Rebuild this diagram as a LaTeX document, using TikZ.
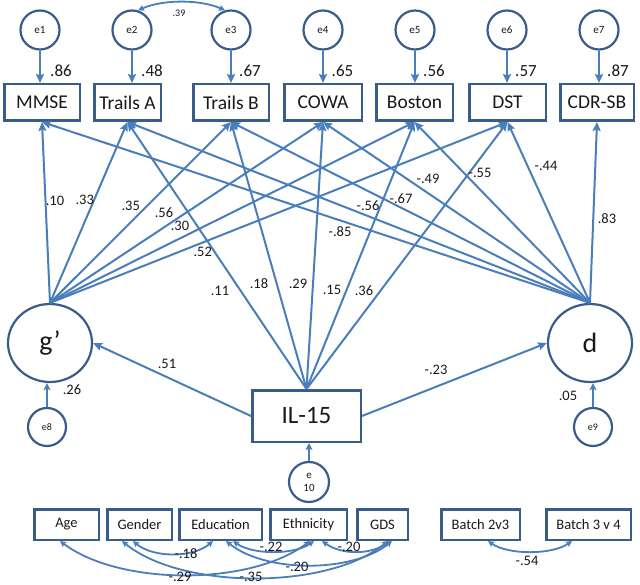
\documentclass[tikz,border=0pt]{standalone}
\usepackage{fontspec}
\setmainfont{Carlito}
\usetikzlibrary{arrows.meta,shapes.geometric}
\definecolor{lineblue}{RGB}{74,126,187}
\definecolor{edgeblue}{RGB}{56,93,138}
\definecolor{txt}{RGB}{25,25,25}
\begin{document}
\begin{tikzpicture}[x=1pt,y=-1pt,
  obsbox/.style={draw=edgeblue, line width=2.5pt, fill=white, rectangle, inner sep=0pt, text=txt},
  topvar/.style={obsbox, minimum height=36.5pt, font=\fontsize{19.5}{22}\selectfont},
  botvar/.style={obsbox, minimum height=30.5pt, font=\fontsize{14.5}{17}\selectfont},
  errc/.style={draw=edgeblue, line width=2.2pt, fill=white, circle, minimum size=39pt, inner sep=0pt, font=\fontsize{11}{13}\selectfont, text=txt},
  latentc/.style={draw=edgeblue, line width=2.2pt, fill=white, ellipse, minimum width=84pt, minimum height=78pt, inner sep=0pt, font=\fontsize{28}{30}\selectfont, text=txt},
  arr/.style={draw=lineblue, line width=2pt, -{Stealth[length=9pt,width=8pt,inset=1.5pt]}},
  arrs/.style={draw=lineblue, line width=2pt, -{Stealth[length=7pt,width=7pt,inset=1.5pt]}},
  cov/.style={draw=lineblue, line width=1.8pt, {Stealth[length=6pt,width=6pt,inset=1pt]}-{Stealth[length=6pt,width=6pt,inset=1pt]}},
  lab/.style={font=\fontsize{14.5}{17}\selectfont, text=txt, inner sep=0pt},
  biglab/.style={font=\fontsize{17}{20}\selectfont, text=txt, inner sep=0pt},
  smalllab/.style={font=\fontsize{10}{12}\selectfont, text=txt, inner sep=0pt},
]
\useasboundingbox (0,0) rectangle (640,585);

% top observed variables
\node[topvar, minimum width=75.5pt] (mmse) at (42,102.5) {MMSE};
\node[topvar, minimum width=66.5pt] (tra) at (127.5,102.5) {Trails A};
\node[topvar, minimum width=75.5pt] (trb) at (231,102.5) {Trails B};
\node[topvar, minimum width=77.5pt] (cowa) at (323,102.5) {COWA};
\node[topvar, minimum width=76.5pt] (boston) at (414.5,102.5) {Boston};
\node[topvar, minimum width=76.5pt] (dst) at (507.5,102.5) {DST};
\node[topvar, minimum width=73.5pt] (cdr) at (597,102.5) {CDR-SB};

% top error terms
\node[errc] (e1) at (40,30) {e1};
\node[errc] (e2) at (132,30) {e2};
\node[errc] (e3) at (231,30) {e3};
\node[errc] (e4) at (323,30) {e4};
\node[errc] (e5) at (415,30) {e5};
\node[errc] (e6) at (507,30) {e6};
\node[errc] (e7) at (599,30) {e7};

% latent factors
\node[latentc] (gp) at (50,343) {g’};
\node[latentc] (d) at (590,343) {d};
\node[errc, minimum size=38pt, font=\fontsize{10}{12}\selectfont] (e8) at (47,427) {e8};
\node[errc, minimum size=38pt, font=\fontsize{10}{12}\selectfont] (e9) at (593,427) {e9};

% IL-15
\node[obsbox, minimum width=108.5pt, minimum height=51.5pt, font=\fontsize{25}{28}\selectfont] (il) at (306.5,416) {IL-15};
\node[errc, minimum size=40pt, align=center, font=\fontsize{11}{13}\selectfont] (e10) at (309,482) {e\\10};

% covariates
\node[botvar, minimum width=64.5pt] (age) at (66.5,524.5) {Age};
\node[botvar, minimum width=64.5pt] (gender) at (139.5,524.5) {Gender};
\node[botvar, minimum width=82.5pt] (edu) at (220.5,524.5) {Education};
\node[botvar, minimum width=76.5pt] (eth) at (308.5,524.5) {Ethnicity};
\node[botvar, minimum width=50.5pt] (gds) at (382.5,524.5) {GDS};
\node[botvar, minimum width=78.5pt] (b23) at (480.5,524.5) {Batch 2v3};
\node[botvar, minimum width=84.5pt] (b34) at (588.5,524.5) {Batch 3 v 4};

% error -> indicators
\draw[arr] (e1) -- (e1 |- mmse.north);
\draw[arr] (e2) -- (e2 |- tra.north);
\draw[arr] (e3) -- (e3 |- trb.north);
\draw[arr] (e4) -- (e4 |- cowa.north);
\draw[arr] (e5) -- (e5 |- boston.north);
\draw[arr] (e6) -- (e6 |- dst.north);
\draw[arr] (e7) -- (e7 |- cdr.north);
\draw[cov] (e2.73) .. controls +(25,-11) and +(-25,-11) .. (e3.107);

% g' loadings
\draw[arr] (gp.north) -- (mmse.south);
\draw[arr] (gp.north) -- (tra.south);
\draw[arr] (gp.north) -- (trb.south);
\draw[arr] (gp.north) -- (cowa.south);
\draw[arr] (gp.north) -- (boston.south);
\draw[arr] (gp.north) -- (dst.south);

% d loadings
\draw[arr] (d.north) -- (mmse.south);
\draw[arr] (d.north) -- (tra.south);
\draw[arr] (d.north) -- (trb.south);
\draw[arr] (d.north) -- (cowa.south);
\draw[arr] (d.north) -- (boston.south);
\draw[arr] (d.north) -- (dst.south);
\draw[arr] (d.north) -- (cdr.south);

% IL-15 direct effects
\draw[arr] (il.north) -- (tra.south);
\draw[arr] (il.north) -- (trb.south);
\draw[arr] (il.north) -- (cowa.south);
\draw[arr] (il.north) -- (boston.south);
\draw[arr] (il.north) -- (dst.south);
\draw[arr] (il.west) -- (gp.east);
\draw[arr] (il.east) -- (d.west);

% disturbances
\draw[arrs] (e8) -- (e8 |- gp.south);
\draw[arrs] (e9) -- (e9 |- d.south);
\draw[arrs] (e10) -- (e10 |- il.south);

% covariances among covariates
\draw[cov] ([xshift=-6.5pt]age.south) .. controls +(60,45) and +(-60,45) .. ([xshift=1.5pt]eth.south);
\draw[cov] ([xshift=-17.5pt]gender.south) .. controls +(60,49) and +(-60,49) .. ([xshift=5.5pt]gds.south);
\draw[cov] ([xshift=-6.5pt]gender.south) .. controls +(20,17) and +(-20,17) .. ([xshift=-7.5pt]edu.south);
\draw[cov] ([xshift=12.5pt]edu.south) .. controls +(20,14) and +(-20,14) .. ([xshift=5.5pt]eth.south);
\draw[cov] ([xshift=13.5pt]eth.south) .. controls +(20,14) and +(-20,14) .. ([xshift=7.5pt]gds.south);
\draw[cov] ([xshift=5.5pt]edu.south) .. controls +(40,32) and +(-40,32) .. ([xshift=9.5pt]gds.south);
\draw[cov] ([xshift=7.5pt]b23.south) .. controls +(20,14) and +(-20,14) .. ([xshift=-16.5pt]b34.south);

% labels: error loadings
\node[biglab] (l86) at (61,71) {.86};
\node[biglab] (l48) at (152,71) {.48};
\node[biglab] (l67) at (250,71) {.67};
\node[biglab] (l65) at (342.5,71) {.65};
\node[biglab] (l56t) at (434,71) {.56};
\node[biglab] (l57) at (526,71) {.57};
\node[biglab] (l87) at (618,71) {.87};
\node[smalllab] (l39) at (179,13) {.39};

% labels: g'
\node[lab] (g10) at (55,200.5) {.10};
\node[lab] (g33) at (84.7,199.5) {.33};
\node[lab] (g35) at (130.7,206) {.35};
\node[lab] (g56) at (164,212.5) {.56};
\node[lab] (g30) at (180,225.5) {.30};
\node[lab] (g52) at (202.7,251.7) {.52};

% labels: IL-15
\node[lab] (i11) at (220,291) {.11};
\node[lab] (i18) at (259,284) {.18};
\node[lab] (i29) at (298,284) {.29};
\node[lab] (i15) at (332,290) {.15};
\node[lab] (i36) at (364,291) {.36};
\node[lab] (i51) at (167,364) {.51};
\node[lab] (i23) at (436,370) {-.23};

% labels: d
\node[lab] (d85) at (340,232) {-.85};
\node[lab] (d56) at (368,206) {-.56};
\node[lab] (d67) at (401,199) {-.67};
\node[lab] (d49) at (428,179) {-.49};
\node[lab] (d55) at (480,173) {-.55};
\node[lab] (d44) at (546,166) {-.44};
\node[lab] (d83) at (607,219) {.83};

\node[lab] (l26) at (72,390) {.26};
\node[lab] (l05) at (568,396) {.05};

% labels: covariates
\node[lab] (c18) at (186,554) {-.18};
\node[lab] (c22) at (271,547) {-.22};
\node[lab] (c20a) at (349,547) {-.20};
\node[lab] (c20b) at (297,567) {-.20};
\node[lab] (c29) at (180,576.5) {-.29};
\node[lab] (c35) at (251,576.5) {-.35};
\node[lab] (c54) at (527,561) {-.54};
\end{tikzpicture}
\end{document}
